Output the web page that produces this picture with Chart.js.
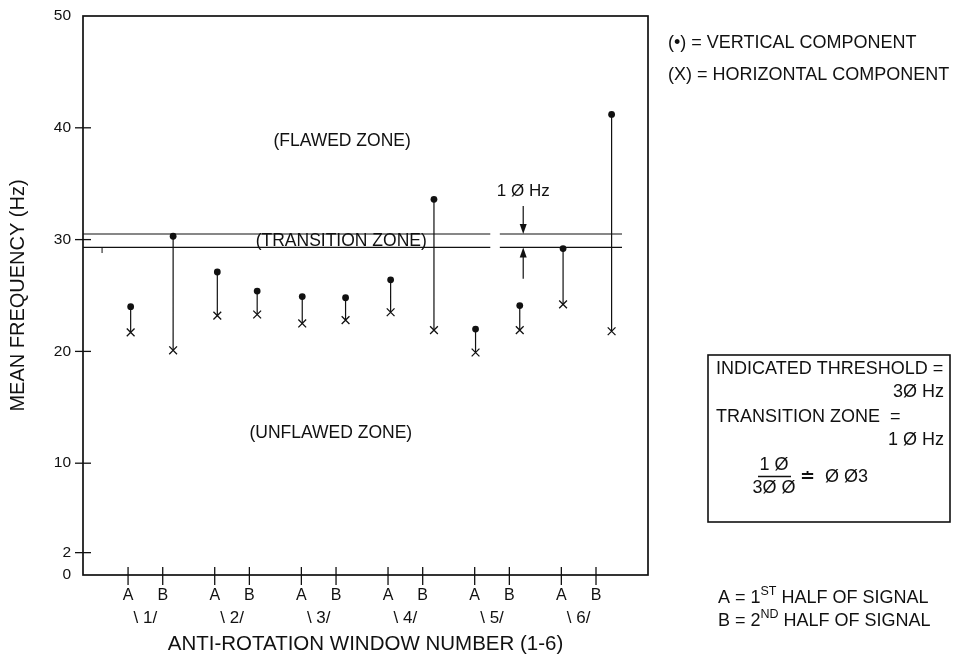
<!DOCTYPE html>
<html><head><meta charset="utf-8">
<script src="https://cdn.jsdelivr.net/npm/chart.js@4.4.0/dist/chart.umd.min.js"></script>
<style>html,body{margin:0;padding:0;background:#fff;}#wrap{width:960px;height:658px;position:relative;}</style>
</head><body><div id="wrap"><canvas id="c" width="960" height="658"></canvas></div>
<script>
// ---- data ----
const windows = [1, 2, 3, 4, 5, 6];
const xTickPositions = [0.8, 1.2, 1.8, 2.2, 2.8, 3.2, 3.8, 4.2, 4.8, 5.2, 5.8, 6.2];
const xTickLabels = ['A','B','A','B','A','B','A','B','A','B','A','B'];
const windowLabels = ['\\ 1/', '\\ 2/', '\\ 3/', '\\ 4/', '\\ 5/', '\\ 6/'];
const pointX = [0.83, 1.32, 1.83, 2.29, 2.81, 3.31, 3.83, 4.33, 4.81, 5.32, 5.82, 6.38];
const verticalHz = [24.0, 30.3, 27.1, 25.4, 24.9, 24.8, 26.4, 33.6, 22.0, 24.1, 29.2, 41.2];
const horizontalHz = [21.7, 20.1, 23.2, 23.3, 22.5, 22.8, 23.5, 21.9, 19.9, 21.9, 24.2, 21.8];
const yTicks = [0, 2, 10, 20, 30, 40, 50];
const transitionUpperHz = 30.5;
const transitionLowerHz = 29.3;
const transitionSpans = [[0.28, 4.98], [5.09, 6.5]];
const stubMark = {x: 0.5, from: 29.3, to: 28.8};
const zoneLabels = [
  {text: '(FLAWED ZONE)', x: 3.27, y: 38.8},
  {text: '(TRANSITION ZONE)', x: 3.26, y: 29.85},
  {text: '(UNFLAWED ZONE)', x: 3.14, y: 12.7}
];
const bandNote = {text: '1 Ø Hz', x: 5.36, y: 34.3, arrowTop: 33.0, arrowBottom: 26.5};

const FONT = '"Liberation Sans", Arial, Helvetica, sans-serif';
Chart.defaults.font.family = FONT;
Chart.defaults.color = '#111';

function segs(spans, yv) {
  const out = [];
  spans.forEach(s => { out.push({x: s[0], y: yv}, {x: s[1], y: yv}, {x: s[1], y: null}); });
  return out;
}
const stems = [];
pointX.forEach((px, i) => { stems.push({x: px, y: verticalHz[i]}, {x: px, y: horizontalHz[i]}, {x: px, y: null}); });

const overlay = {
  id: 'overlay',
  afterDatasetsDraw(chart) {
    const {ctx, chartArea: a, scales: {x, y}} = chart;
    ctx.save();
    ctx.strokeStyle = '#111'; ctx.fillStyle = '#111';
    ctx.lineWidth = 1.7;
    ctx.strokeRect(a.left, a.top, a.right - a.left, a.bottom - a.top);
    ctx.lineWidth = 1.3;
    const line = (x1, y1, x2, y2) => { ctx.beginPath(); ctx.moveTo(x1, y1); ctx.lineTo(x2, y2); ctx.stroke(); };
    yTicks.forEach(v => { if (v === 0 || v === 50) return; const py = y.getPixelForValue(v); line(a.left - 8, py, a.left + 8, py); });
    xTickPositions.forEach(v => { const px = x.getPixelForValue(v); line(px, a.bottom - 8, px, a.bottom + 10); });
    ctx.lineWidth = 1;
    line(x.getPixelForValue(stubMark.x), y.getPixelForValue(stubMark.from), x.getPixelForValue(stubMark.x), y.getPixelForValue(stubMark.to));
    ctx.font = '17.5px ' + FONT; ctx.textAlign = 'center'; ctx.textBaseline = 'middle';
    zoneLabels.forEach(z => ctx.fillText(z.text, x.getPixelForValue(z.x), y.getPixelForValue(z.y)));
    const ax = x.getPixelForValue(bandNote.x);
    ctx.font = '17px ' + FONT;
    ctx.fillText(bandNote.text, ax, y.getPixelForValue(bandNote.y));
    const up = y.getPixelForValue(transitionUpperHz), lo = y.getPixelForValue(transitionLowerHz);
    ctx.lineWidth = 1.2;
    line(ax, y.getPixelForValue(bandNote.arrowTop), ax, up - 8);
    ctx.beginPath(); ctx.moveTo(ax - 3.5, up - 10); ctx.lineTo(ax + 3.5, up - 10); ctx.lineTo(ax, up); ctx.closePath(); ctx.fill();
    line(ax, y.getPixelForValue(bandNote.arrowBottom), ax, lo + 8);
    ctx.beginPath(); ctx.moveTo(ax - 3.5, lo + 10); ctx.lineTo(ax + 3.5, lo + 10); ctx.lineTo(ax, lo); ctx.closePath(); ctx.fill();
    ctx.restore();

    // right-hand notes
    ctx.save();
    ctx.fillStyle = '#111'; ctx.strokeStyle = '#111';
    ctx.font = '18px ' + FONT; ctx.textBaseline = 'middle'; ctx.textAlign = 'left';
    ctx.fillText('(\u2022) = VERTICAL COMPONENT', 668, 43);
    ctx.fillText('(X) = HORIZONTAL COMPONENT', 668, 75);
    ctx.lineWidth = 1.6;
    ctx.strokeRect(708, 355, 242, 167);
    ctx.fillText('INDICATED THRESHOLD =', 716, 369);
    ctx.textAlign = 'right';
    ctx.fillText('3Ø Hz', 944, 392);
    ctx.textAlign = 'left';
    ctx.fillText('TRANSITION ZONE  =', 716, 417);
    ctx.textAlign = 'right';
    ctx.fillText('1 Ø Hz', 944, 440);
    ctx.textAlign = 'center';
    ctx.fillText('1 Ø', 774, 465);
    ctx.fillText('3Ø Ø', 774, 488);
    ctx.lineWidth = 1.3;
    ctx.beginPath(); ctx.moveTo(758, 476.5); ctx.lineTo(791, 476.5); ctx.stroke();
    ctx.textAlign = 'left';
    ctx.fillText('\u2250  Ø Ø3', 800, 477);
    const supLine = (pre, sup, post, x0, y0) => {
      ctx.font = '18px ' + FONT; ctx.textAlign = 'left';
      ctx.fillText(pre, x0, y0);
      let xx = x0 + ctx.measureText(pre).width;
      ctx.font = '12.5px ' + FONT;
      ctx.fillText(sup, xx, y0 - 6);
      xx += ctx.measureText(sup).width;
      ctx.font = '18px ' + FONT;
      ctx.fillText(post, xx, y0);
    };
    supLine('A = 1', 'ST', ' HALF OF SIGNAL', 718, 598);
    supLine('B = 2', 'ND', ' HALF OF SIGNAL', 718, 621);
    ctx.restore();
  }
};

new Chart(document.getElementById('c'), {
  type: 'scatter',
  data: {
    datasets: [
      {label: 'stems', type: 'line', data: stems, borderColor: '#111', borderWidth: 1.2, pointRadius: 0, spanGaps: false, fill: false},
      {label: 'upper', type: 'line', data: segs(transitionSpans, transitionUpperHz), borderColor: '#111', borderWidth: 1.2, pointRadius: 0, spanGaps: false},
      {label: 'lower', type: 'line', data: segs(transitionSpans, transitionLowerHz), borderColor: '#111', borderWidth: 1.2, pointRadius: 0, spanGaps: false},
      {label: '(\u2022) = VERTICAL COMPONENT', data: pointX.map((px, i) => ({x: px, y: verticalHz[i]})), pointStyle: 'circle', pointRadius: 3.4, backgroundColor: '#111', borderColor: '#111', borderWidth: 0},
      {label: '(X) = HORIZONTAL COMPONENT', data: pointX.map((px, i) => ({x: px, y: horizontalHz[i]})), pointStyle: 'crossRot', pointRadius: 5.5, borderColor: '#111', borderWidth: 1.3}
    ]
  },
  options: {
    responsive: false, animation: false, devicePixelRatio: 1,
    layout: {padding: {left: 0, top: 16, right: 312, bottom: 0}},
    plugins: {legend: {display: false}, tooltip: {enabled: false}},
    scales: {
      x: {
        type: 'linear', position: 'bottom', min: 0.28, max: 6.8, weight: 1,
        grid: {display: false, drawTicks: false}, border: {display: false},
        afterBuildTicks: s => { s.ticks = xTickPositions.map(v => ({value: v})); },
        ticks: {autoSkip: false, maxRotation: 0, padding: 11, font: {size: 16}, color: '#111',
          callback: (v, i) => xTickLabels[i]},
        afterFit: s => { s.height = 30; }
      },
      x2: {
        type: 'linear', position: 'bottom', min: 0.28, max: 6.8, weight: 2,
        grid: {display: false, drawTicks: false}, border: {display: false},
        afterBuildTicks: s => { s.ticks = windows.map(v => ({value: v})); },
        ticks: {autoSkip: false, maxRotation: 0, padding: 3, font: {size: 17}, color: '#111',
          callback: (v, i) => windowLabels[i]},
        title: {display: true, text: 'ANTI-ROTATION WINDOW NUMBER (1-6)', font: {size: 20.5}, color: '#111', padding: {top: 0, bottom: 1}},
        afterFit: s => { s.height = 53; }
      },
      y: {
        type: 'linear', min: 0, max: 50,
        grid: {display: true, drawOnChartArea: false, drawTicks: true, tickLength: 10, color: 'rgba(0,0,0,0)'},
        border: {display: false},
        afterBuildTicks: s => { s.ticks = yTicks.map(v => ({value: v})); },
        ticks: {padding: 2, font: {size: 15.5}, color: '#111'},
        title: {display: true, text: 'MEAN FREQUENCY (Hz)', font: {size: 20}, color: '#111', padding: {top: 6, bottom: 0}},
        afterFit: s => { s.width = 83; }
      }
    }
  },
  plugins: [overlay]
});
</script></body></html>
